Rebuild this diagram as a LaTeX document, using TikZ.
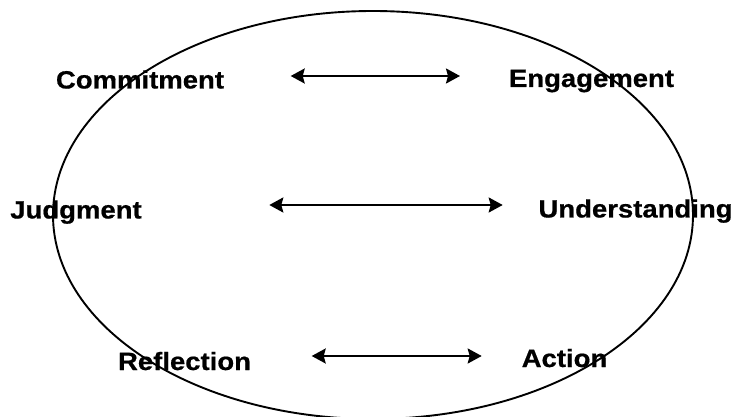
\documentclass[tikz,border=0pt]{standalone}
\usepackage{fontspec}
\setmainfont{Liberation Sans}[BoldFeatures={FakeBold=0.6}]
\usetikzlibrary{arrows.meta,shapes.geometric}
\tikzset{
  lbl/.style={inner sep=0pt, anchor=base, xscale=1.1, font=\fontsize{25}{28}\selectfont\bfseries},
  dbl/.style={line width=2.2pt, {Stealth[length=14pt,width=15pt,inset=2pt]}-{Stealth[length=14pt,width=15pt,inset=2pt]}},
  ring/.style={draw, line width=1.9pt}
}
\begin{document}
\begin{tikzpicture}[x=1pt,y=-1pt]
\useasboundingbox (0,0) rectangle (737,417);
\fill[white] (0,0) rectangle (737,417);
\node[ring, ellipse, minimum width=640pt, minimum height=408pt, inner sep=0pt] (loop) at (373,215) {};
\node[lbl] (commit) at (140,88.5) {Commitment};
\node[lbl] (engage) at (591.5,87) {Engagement};
\node[lbl] (judge) at (76,218.5) {Judgment};
\node[lbl] (under) at (635.5,217.5) {Understanding};
\node[lbl] (reflect) at (184.5,370) {Reflection};
\node[lbl] (action) at (564.5,367) {Action};
\coordinate (a1) at (290.7,76);
\coordinate (b1) at (460,76);
\coordinate (a2) at (269.3,205);
\coordinate (b2) at (502.7,205);
\coordinate (a3) at (311.7,356);
\coordinate (b3) at (481.7,356);
\draw[dbl] (a1) -- (b1);
\draw[dbl] (a2) -- (b2);
\draw[dbl] (a3) -- (b3);
\end{tikzpicture}
\end{document}
